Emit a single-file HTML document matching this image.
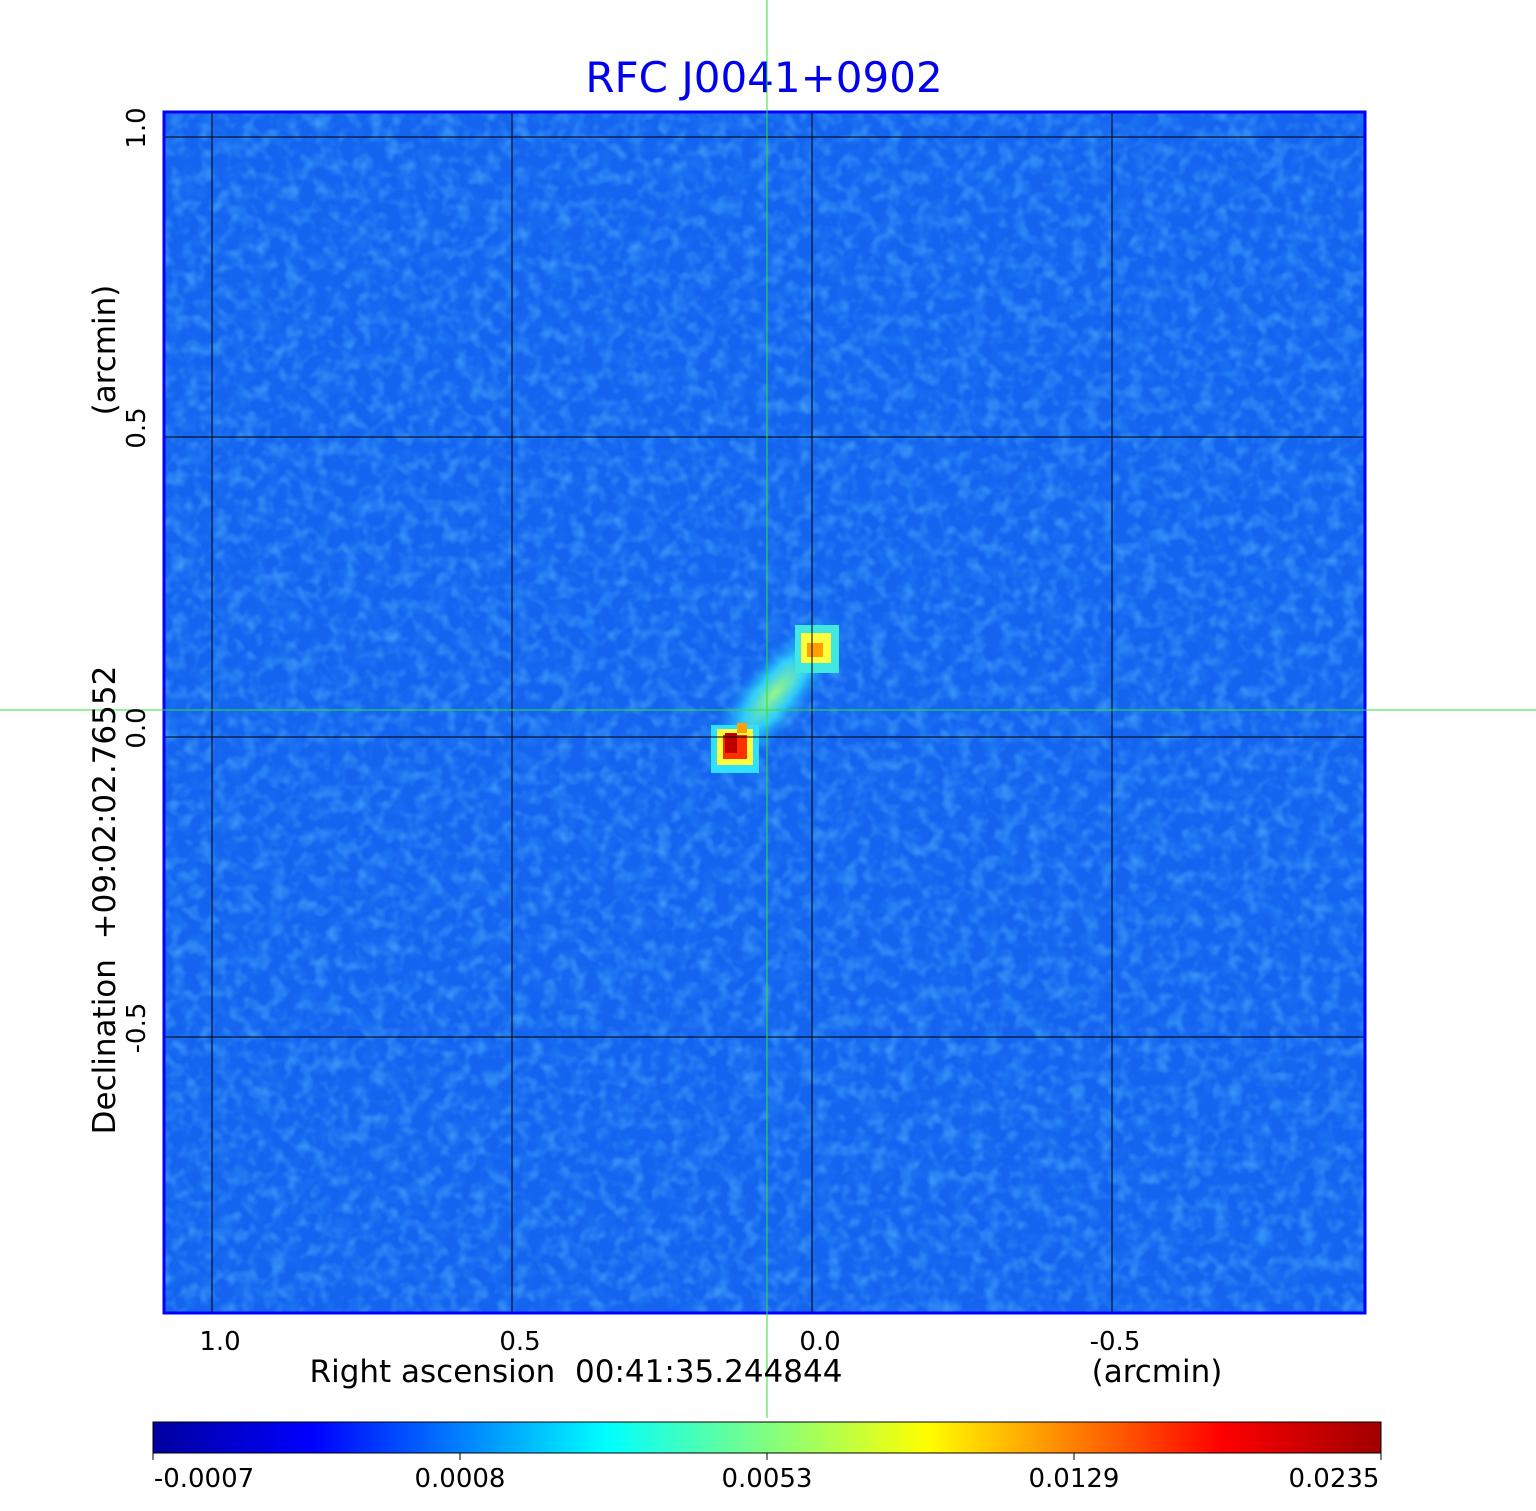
<!DOCTYPE html>
<html><head><style>
body{margin:0;background:#fff;width:1536px;height:1511px;overflow:hidden;font-family:"DejaVu Sans","Liberation Sans",sans-serif}
text{white-space:pre}
</style></head><body>
<svg width="1536" height="1511" xmlns="http://www.w3.org/2000/svg" style="position:absolute;left:0;top:0">
<defs>
<filter id="n" x="0" y="0" width="100%" height="100%">
<feTurbulence type="fractalNoise" baseFrequency="0.07" numOctaves="2" seed="3"/>
<feColorMatrix type="matrix" values="0 0 0 0 0.1  0 0 0 0 0.5  0 0 0 0 0.98  0 0 0 1.8 -0.8"/>
</filter>
<filter id="d" x="0" y="0" width="100%" height="100%">
<feTurbulence type="fractalNoise" baseFrequency="0.06" numOctaves="2" seed="9"/>
<feColorMatrix type="matrix" values="0 0 0 0 0.02  0 0 0 0 0.25  0 0 0 0 0.9  0 0 0 1.8 -0.85"/>
</filter>
<radialGradient id="g1"><stop offset="0" stop-color="#a0ff80" stop-opacity="0.95"/><stop offset="0.45" stop-color="#30e0ff" stop-opacity="0.8"/><stop offset="1" stop-color="#1070f0" stop-opacity="0"/></radialGradient>
<linearGradient id="cb" x1="0" x2="1">
<stop offset="0" stop-color="#0000a0"/><stop offset="0.13" stop-color="#0000ff"/><stop offset="0.37" stop-color="#00ffff"/><stop offset="0.5" stop-color="#80ff80"/><stop offset="0.63" stop-color="#ffff00"/><stop offset="0.87" stop-color="#ff0000"/><stop offset="1" stop-color="#a00000"/>
</linearGradient>
</defs>
<text x="764" y="92" font-size="42" fill="#0000ee" text-anchor="middle">RFC J0041+0902</text>
<rect x="164" y="112" width="1201" height="1201" fill="#1464f0"/>
<rect x="164" y="112" width="1201" height="1201" filter="url(#n)" opacity="0.7"/>
<rect x="164" y="112" width="1201" height="1201" filter="url(#d)" opacity="0.6"/>
<ellipse cx="775" cy="693" rx="105" ry="36" transform="rotate(-50 775 693)" fill="url(#g1)"/>
<g shape-rendering="crispEdges">
<rect x="711" y="725" width="48" height="48" fill="#30e0ff"/>
<rect x="717" y="729" width="36" height="36" fill="#ffff40"/>
<rect x="723" y="735" width="24" height="24" fill="#ff3000"/>
<rect x="725" y="733" width="12" height="20" fill="#c00000"/>
<rect x="737" y="723" width="10" height="10" fill="#ffa000"/>
<rect x="795" y="625" width="44" height="48" fill="#40e8e0"/>
<rect x="801" y="633" width="30" height="30" fill="#ffff40"/>
<rect x="807" y="643" width="16" height="14" fill="#ffa000"/>
</g>
<g stroke="#000" stroke-width="1">
<line x1="212" y1="112" x2="212" y2="1313"/><line x1="512" y1="112" x2="512" y2="1313"/><line x1="812" y1="112" x2="812" y2="1313"/><line x1="1112" y1="112" x2="1112" y2="1313"/>
<line x1="164" y1="137" x2="1365" y2="137"/><line x1="164" y1="437" x2="1365" y2="437"/><line x1="164" y1="737" x2="1365" y2="737"/><line x1="164" y1="1037" x2="1365" y2="1037"/>
</g>
<rect x="164" y="112" width="1201" height="1201" fill="none" stroke="#0000ff" stroke-width="3"/>
<line x1="767" y1="0" x2="767" y2="1418" stroke="#30e030" stroke-width="1"/>
<line x1="0" y1="710" x2="1536" y2="710" stroke="#30e030" stroke-width="1"/>
<g font-size="26" fill="#000" text-anchor="middle">
<text x="220" y="1350">1.0</text><text x="520" y="1350">0.5</text><text x="820" y="1350">0.0</text><text x="1115" y="1350">-0.5</text>
<text x="576" y="1382" font-size="31">Right ascension  00:41:35.244844</text>
<text x="1157" y="1382" font-size="31">(arcmin)</text>
<text transform="translate(145,128) rotate(-90)">1.0</text>
<text transform="translate(145,428) rotate(-90)">0.5</text>
<text transform="translate(145,728) rotate(-90)">0.0</text>
<text transform="translate(145,1028) rotate(-90)">-0.5</text>
<text transform="translate(115,350) rotate(-90)" font-size="31">(arcmin)</text>
<text transform="translate(115,900) rotate(-90)" font-size="31">Declination  +09:02:02.76552</text>
</g>
<rect x="153" y="1422" width="1228" height="31" fill="url(#cb)" stroke="#000" stroke-width="1"/>
<g stroke="#000"><line x1="153" y1="1453" x2="153" y2="1460"/><line x1="460" y1="1453" x2="460" y2="1460"/><line x1="767" y1="1453" x2="767" y2="1460"/><line x1="1074" y1="1453" x2="1074" y2="1460"/><line x1="1381" y1="1453" x2="1381" y2="1460"/></g>
<g font-size="26" fill="#000" text-anchor="middle">
<text x="204" y="1487">-0.0007</text><text x="460" y="1487">0.0008</text><text x="767" y="1487">0.0053</text><text x="1074" y="1487">0.0129</text><text x="1334" y="1487">0.0235</text>
</g>
</svg>
</body></html>
